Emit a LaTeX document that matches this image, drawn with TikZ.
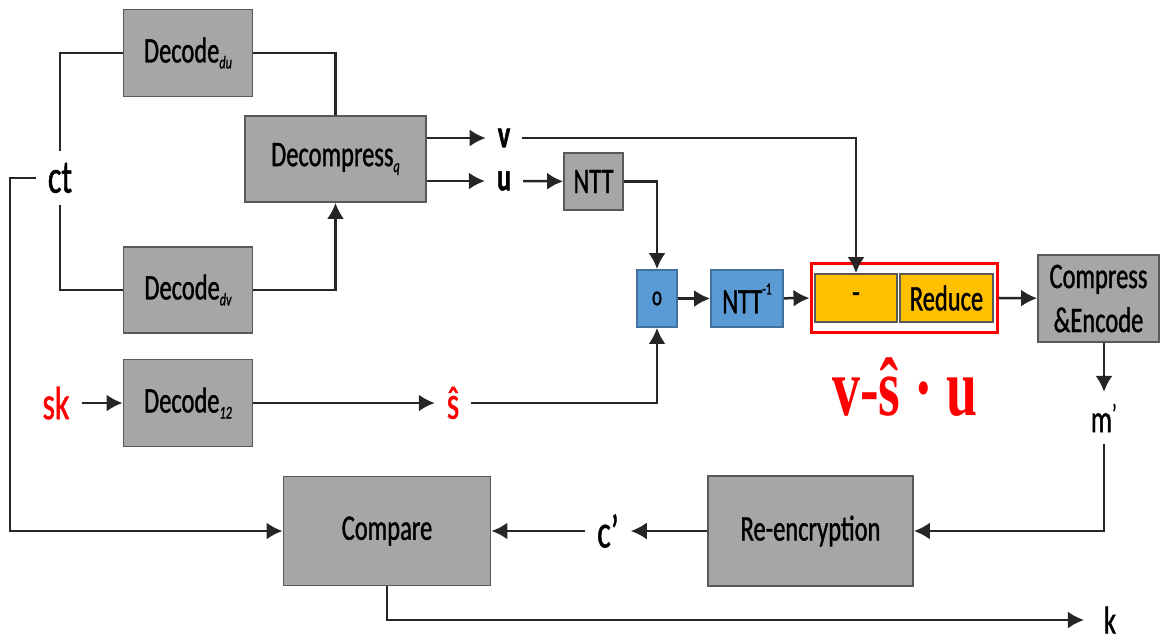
\documentclass[tikz,border=0pt]{standalone}
\usepackage{fontspec}
\setmainfont{Carlito}[FakeStretch=0.68, FakeBold=1]
\newfontfamily\eqfont{Liberation Serif}[FakeStretch=0.68]
\usepackage{xcolor}
\definecolor{blkgray}{HTML}{A6A6A6}
\definecolor{blkedge}{HTML}{595959}
\definecolor{nttblue}{HTML}{5B9BD5}
\definecolor{nttedge}{HTML}{41719C}
\definecolor{subgold}{HTML}{FFC000}
\usepackage{tikz}
\usetikzlibrary{arrows.meta}
\tikzset{
  wire/.style={black!85, line width=2.5pt},
  flow/.style={wire, -{Latex[length=16pt,width=17pt]}},
  blk/.style={draw=blkedge, fill=blkgray, line width=1.8pt, inner sep=0pt,
    font=\fontsize{36}{44}\selectfont},
  nttblk/.style={blk, draw=nttedge, fill=nttblue},
  subblk/.style={blk, fill=subgold},
  lbl/.style={inner sep=0pt, outer sep=12pt, font=\fontsize{39}{40}\selectfont},
  boldlbl/.style={lbl, font=\fontsize{39}{40}\selectfont\bfseries},
  biglbl/.style={lbl, font=\fontsize{47}{48}\selectfont},
}
\newcommand{\subtx}[1]{\raisebox{-6pt}{\fontsize{18}{18}\selectfont\itshape #1}}
\newcommand{\suptx}[1]{\raisebox{19pt}{\fontsize{17}{17}\selectfont #1}}

\begin{document}
\begin{tikzpicture}[x=1pt, y=-1pt]
\useasboundingbox (0,0) rectangle (1160,641);
% decoding of the ciphertext
\node[blk, minimum width=129pt, minimum height=87pt] (du) at (188,53) {Decode\subtx{du}};
\node[blk, minimum width=181pt, minimum height=86pt] (dq) at (335.5,159) {Decompress\subtx{q}};
\node[blk, minimum width=129pt, minimum height=86pt] (dv) at (188,290) {Decode\subtx{dv}};
\node[blk, minimum width=129pt, minimum height=87pt] (d12) at (188,403) {Decode\subtx{12}};
\node[biglbl] (ct) at (60,178) {ct};
\node[biglbl, text=red] (sk) at (56,403) {sk};
\node[boldlbl] (v) at (504,138) {v};
\node[boldlbl] (u) at (504,181) {u};
\node[biglbl, text=red] (shat) at (453,403) {ŝ};
% multiplication in the NTT domain
\node[blk, minimum width=59pt, minimum height=57pt] (ntt) at (593.5,181.5) {NTT};
\node[nttblk, minimum width=40pt, minimum height=57pt, font=\fontsize{28}{30}\selectfont] (mul) at (657,298.5) {o};
\node[nttblk, minimum width=72pt, minimum height=57pt] (intt) at (747,298.5) {NTT\suptx{-1}};
\node[draw=red, line width=3pt, minimum width=186pt, minimum height=69pt] (redbox) at (904,297.5) {};
\node[subblk, minimum width=82pt, minimum height=48pt] (sub) at (856,298) {-};
\node[subblk, minimum width=93pt, minimum height=48pt] (rdc) at (946.5,298) {Reduce};
\node[blk, minimum width=121pt, minimum height=87pt, align=center] (ce) at (1098.5,298.5) {Compress\\\&Encode};
\node[text=red, font=\eqfont\bfseries\fontsize{82}{82}\selectfont, anchor=base] (eq) at (905,415) {v-ŝ · u};
% re-encryption and comparison
\node[lbl] (mp) at (1104,418) {m\textsuperscript{’}};
\node[blk, minimum width=205pt, minimum height=110pt] (renc) at (810.5,531) {Re-encryption};
\node[biglbl] (cp) at (608,531) {c’};
\node[blk, minimum width=207pt, minimum height=109pt] (cmp) at (387,531) {Compare};
\node[lbl, outer sep=20pt] (k) at (1110,620) {k};
\coordinate (ctbend) at (10,531);
% connectors
\draw[wire] (ct.north) |- (du.west);
\draw[wire] (ct.south) |- (dv.west);
\draw[wire] (du.east) -| (dq.north);
\draw[flow] (dv.east) -| (dq.south);
\draw[flow] (dq.east |- v) -- (v);
\draw[flow] (dq.east |- u) -- (u);
\draw[flow] (u) -- (ntt);
\draw[flow] (v.east) -| (sub.north);
\draw[flow] (ntt.east) -| (mul.north);
\draw[flow] (sk) -- (d12);
\draw[flow] (d12) -- (shat);
\draw[flow] (shat.east) -| (mul.south);
\draw[flow] (mul) -- (intt);
\draw[flow] (intt) -- (redbox);
\draw[flow] (redbox) -- (ce);
\draw[flow] (ce.south -| mp.north) -- (mp.north);
\draw[flow] (mp.south) |- (renc.east);
\draw[flow] (renc) -- (cp);
\draw[flow] (cp) -- (cmp);
\draw[flow] (ct.west) -| (ctbend) -- (cmp.west);
\draw[flow] (cmp.south) |- (k.west);
\end{tikzpicture}
\end{document}
